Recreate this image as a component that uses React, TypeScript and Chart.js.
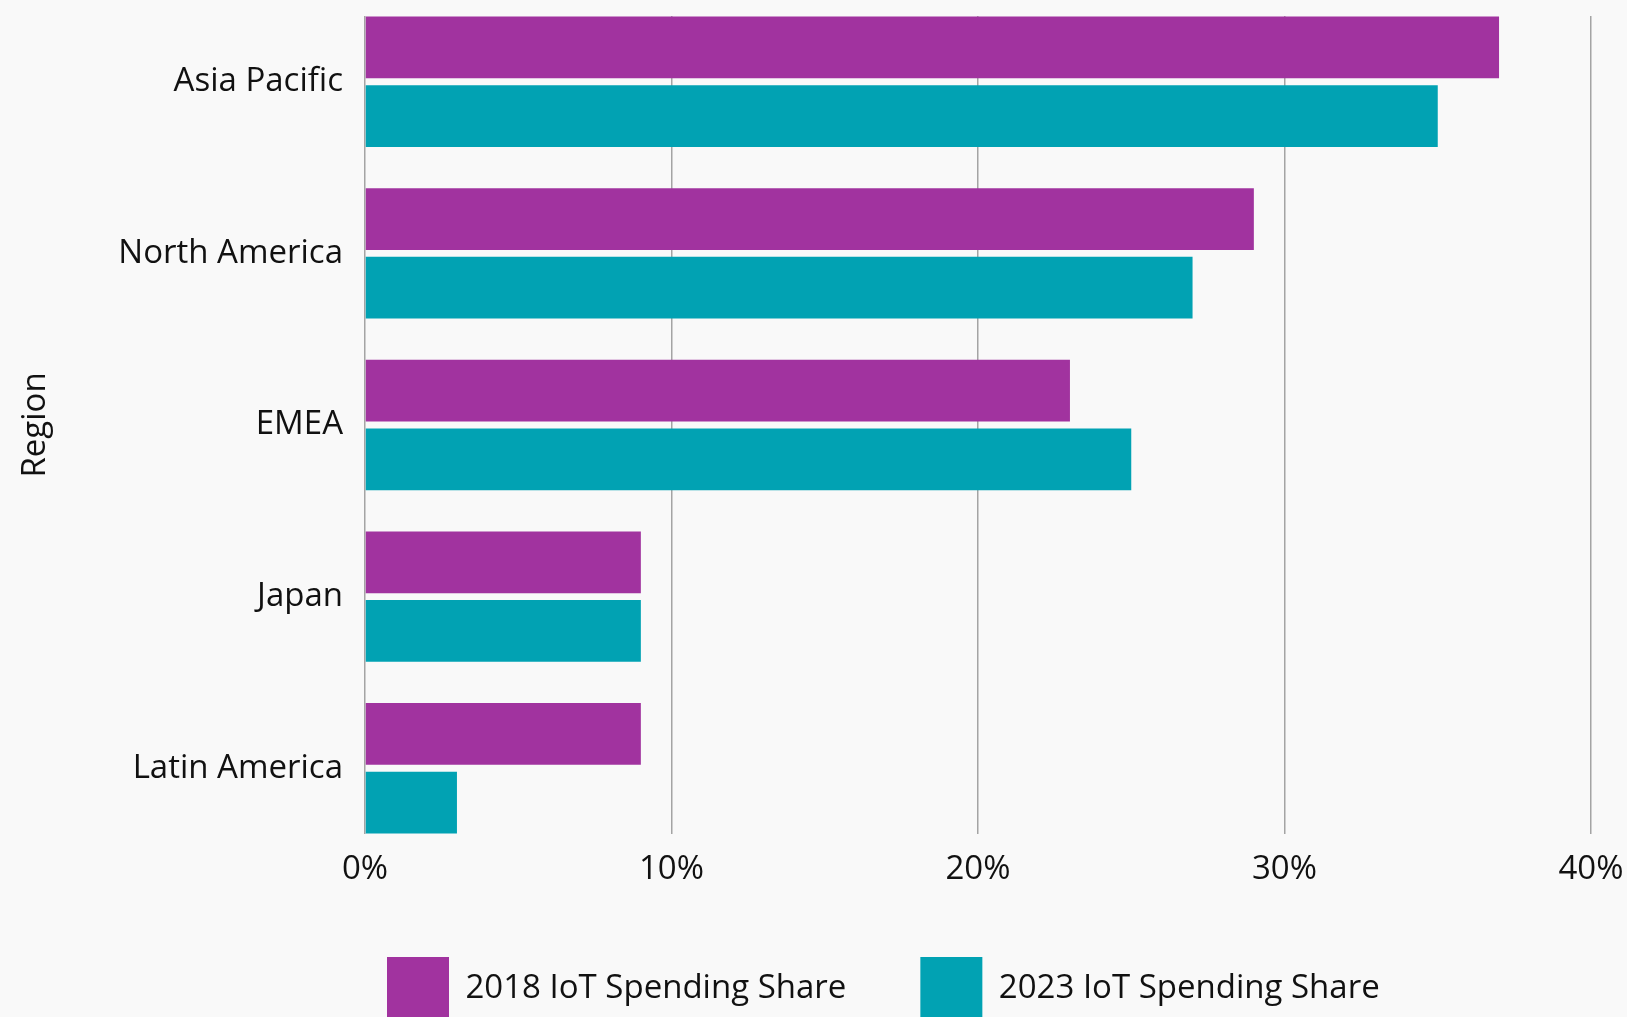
import React, { useEffect, useRef } from 'react';
import { Chart, registerables } from 'chart.js';

Chart.register(...registerables);

const regions = ['Asia Pacific', 'North America', 'EMEA', 'Japan', 'Latin America'];
const share2018 = [37, 29, 23, 9, 9];
const share2023 = [35, 27, 25, 9, 3];
const seriesLabels = ['2018 IoT Spending Share', '2023 IoT Spending Share'];
const seriesColors = ['#a1339f', '#01a2b3'];
const xTickValues = [0, 10, 20, 30, 40];
const axisTitle = 'Region';

const FONT_FAMILY = "'Open Sans', 'DejaVu Sans', sans-serif";
const TEXT_COLOR = '#111111';
const GRID_COLOR = '#a4a4a4';
const BG = '#f9f9f9';

export default function App() {
  const canvasRef = useRef<HTMLCanvasElement | null>(null);

  useEffect(() => {
    document.body.style.margin = '0';
    document.body.style.background = BG;
    const canvas = canvasRef.current;
    if (!canvas) return;

    // Place the legend row where the reference has it (first box at x≈387, box top at y≈957).
    const legendShift = {
      id: 'legendShift',
      afterLayout(chart: any) {
        const lg = chart.legend;
        if (!lg) return;
        const pad = lg.options.labels.padding;
        const dx = 387 - (lg.left + pad);
        const dy = 957 - (lg.top + pad);
        lg.left += dx;
        lg.right += dx;
        lg.top += dy;
        lg.bottom += dy;
      },
    };

    const font = { family: FONT_FAMILY, size: 33 };

    const chart = new Chart(canvas, {
      type: 'bar',
      data: {
        datasets: [
          {
            label: seriesLabels[0],
            data: share2018.map((v, i) => ({ x: v, y: i })),
            backgroundColor: seriesColors[0],
            categoryPercentage: 0.8,
            barPercentage: 0.9,
          },
          {
            label: seriesLabels[1],
            data: share2023.map((v, i) => ({ x: v, y: i })),
            backgroundColor: seriesColors[1],
            categoryPercentage: 0.8,
            barPercentage: 0.9,
          },
        ],
      } as any,
      options: {
        indexAxis: 'y',
        responsive: false,
        animation: false,
        layout: { padding: { top: 16, right: 36, left: 0, bottom: -35 } },
        scales: {
          x: {
            type: 'linear',
            position: 'bottom',
            min: xTickValues[0],
            max: xTickValues[xTickValues.length - 1],
            bounds: 'data',
            offset: false,
            afterBuildTicks: (s: any) => {
              s.ticks = xTickValues.map((v) => ({ value: v }));
            },
            ticks: {
              callback: (v: any) => v + '%',
              padding: 16,
              font,
              color: TEXT_COLOR,
              maxRotation: 0,
            },
            grid: { color: GRID_COLOR, lineWidth: 1.5, drawTicks: false, offset: false },
            border: { display: false },
            afterFit: (s: any) => {
              s.height = 70;
              s.paddingLeft = 0;
              s.paddingRight = 0;
            },
          },
          y: {
            type: 'linear',
            reverse: true,
            bounds: 'data',
            offset: false,
            min: -0.383,
            max: regions.length - 1 + 0.383,
            afterBuildTicks: (s: any) => {
              s.ticks = regions.map((_, i) => ({ value: i }));
            },
            ticks: {
              callback: (v: any) => regions[v as number],
              padding: 22,
              autoSkip: false,
              font,
              color: TEXT_COLOR,
            },
            grid: { display: false, drawTicks: false, offset: false },
            border: { display: false },
            title: {
              display: true,
              text: axisTitle,
              font,
              color: TEXT_COLOR,
              padding: { top: 16, bottom: 0 },
            },
            afterFit: (s: any) => {
              s.width = 365;
              s.paddingTop = 0;
              s.paddingBottom = 0;
            },
          },
        },
        plugins: {
          legend: {
            position: 'bottom',
            align: 'start',
            labels: {
              boxWidth: 62,
              boxHeight: 64,
              padding: 74,
              font,
              color: TEXT_COLOR,
            },
          },
          tooltip: { enabled: false },
        },
      } as any,
      plugins: [legendShift],
    });

    return () => {
      chart.destroy();
    };
  }, []);

  return (
    <div style={{ width: 1627, height: 1017, background: BG, overflow: 'hidden' }}>
      <canvas ref={canvasRef} width={1627} height={1017} style={{ display: 'block' }} />
    </div>
  );
}
